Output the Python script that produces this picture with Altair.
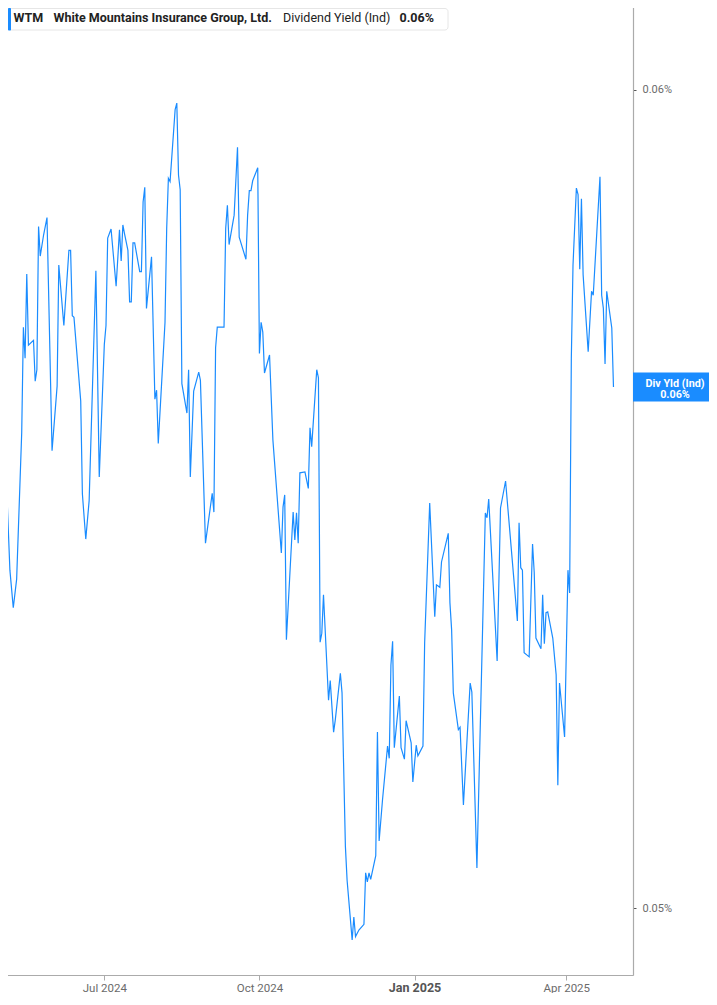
import altair as alt
import pandas as pd

# ---------------- data ----------------
ticker = "WTM"
company = "White Mountains Insurance Group, Ltd."
metric = "Dividend Yield (Ind)"
metric_short = "Div Yld (Ind)"

dates_q2_2024 = ["2024-04-30","2024-05-01","2024-05-02","2024-05-03","2024-05-06","2024-05-08","2024-05-10",
                 "2024-05-13","2024-05-14","2024-05-15","2024-05-16","2024-05-17","2024-05-20","2024-05-21",
                 "2024-05-22","2024-05-23","2024-05-24","2024-05-26","2024-05-28","2024-05-31","2024-06-03",
                 "2024-06-04","2024-06-07","2024-06-10","2024-06-11","2024-06-12","2024-06-13","2024-06-17",
                 "2024-06-18","2024-06-20","2024-06-22","2024-06-24","2024-06-26","2024-06-28"]
yield_q2_2024 = [0.05647,0.05506,0.05505,0.05570,0.05413,0.05367,0.05402,
                 0.05581,0.05710,0.05672,0.05775,0.05688,0.05694,0.05644,
                 0.05658,0.05833,0.05797,0.05823,0.05844,0.05559,0.05638,
                 0.05786,0.05712,0.05804,0.05804,0.05724,0.05722,0.05620,
                 0.05506,0.05451,0.05498,0.05638,0.05779,0.05527]

dates_q3_2024 = ["2024-07-01","2024-07-02","2024-07-03","2024-07-05","2024-07-08","2024-07-10","2024-07-11",
                 "2024-07-12","2024-07-13","2024-07-15","2024-07-16","2024-07-17","2024-07-18","2024-07-19",
                 "2024-07-22","2024-07-23","2024-07-24","2024-07-25","2024-07-26","2024-07-29","2024-07-31",
                 "2024-08-01","2024-08-02","2024-08-06","2024-08-07","2024-08-08","2024-08-09","2024-08-12",
                 "2024-08-13","2024-08-14","2024-08-15","2024-08-16","2024-08-19","2024-08-20","2024-08-21",
                 "2024-08-23","2024-08-26","2024-08-27","2024-08-30","2024-09-03","2024-09-04","2024-09-05",
                 "2024-09-06","2024-09-10","2024-09-11","2024-09-12","2024-09-13","2024-09-16","2024-09-18",
                 "2024-09-19","2024-09-23","2024-09-24","2024-09-25","2024-09-26","2024-09-27","2024-09-30"]
yield_q3_2024 = [0.05689,0.05712,0.05819,0.05830,0.05760,0.05829,0.05791,
                 0.05835,0.05824,0.05804,0.05741,0.05741,0.05813,0.05813,
                 0.05778,0.05778,0.05863,0.05881,0.05733,0.05796,0.05622,
                 0.05633,0.05568,0.05716,0.05831,0.05892,0.05888,0.05976,
                 0.05984,0.05896,0.05878,0.05641,0.05605,0.05658,0.05527,
                 0.05632,0.05655,0.05645,0.05446,0.05507,0.05484,0.05685,
                 0.05710,0.05710,0.05831,0.05859,0.05811,0.05847,0.05930,
                 0.05820,0.05793,0.05847,0.05877,0.05877,0.05889,0.05905]

dates_q4_2024 = ["2024-10-01","2024-10-02","2024-10-03","2024-10-04","2024-10-07","2024-10-09","2024-10-14",
                 "2024-10-15","2024-10-16","2024-10-17","2024-10-21","2024-10-22","2024-10-23","2024-10-24",
                 "2024-10-25","2024-10-28","2024-10-30","2024-10-31","2024-11-01","2024-11-04","2024-11-05",
                 "2024-11-06","2024-11-07","2024-11-08","2024-11-11","2024-11-12","2024-11-14","2024-11-15",
                 "2024-11-18","2024-11-19","2024-11-21","2024-11-22","2024-11-25","2024-11-26","2024-11-27",
                 "2024-11-29","2024-12-02","2024-12-03","2024-12-04","2024-12-05","2024-12-06","2024-12-09",
                 "2024-12-10","2024-12-11","2024-12-13","2024-12-16","2024-12-17","2024-12-18","2024-12-19",
                 "2024-12-20","2024-12-23","2024-12-24","2024-12-26","2024-12-27","2024-12-30","2024-12-31"]
yield_q4_2024 = [0.05678,0.05716,0.05704,0.05654,0.05676,0.05572,0.05434,
                 0.05490,0.05505,0.05328,0.05484,0.05450,0.05483,0.05446,
                 0.05532,0.05533,0.05513,0.05587,0.05564,0.05658,0.05648,
                 0.05325,0.05336,0.05383,0.05254,0.05278,0.05215,0.05230,
                 0.05287,0.05263,0.05075,0.05034,0.04961,0.04989,0.04965,
                 0.04973,0.04980,0.05043,0.05032,0.05043,0.05035,0.05064,
                 0.05215,0.05082,0.05132,0.05198,0.05183,0.05297,0.05326,
                 0.05196,0.05259,0.05196,0.05182,0.05229,0.05202,0.05154]

dates_q1_2025 = ["2025-01-02","2025-01-03","2025-01-06","2025-01-07","2025-01-10","2025-01-13","2025-01-14",
                 "2025-01-16","2025-01-17","2025-01-21","2025-01-22","2025-01-23","2025-01-24","2025-01-27",
                 "2025-01-28","2025-01-30","2025-02-03","2025-02-04","2025-02-07","2025-02-12","2025-02-13",
                 "2025-02-14","2025-02-19","2025-02-21","2025-02-24","2025-03-03","2025-03-04","2025-03-05",
                 "2025-03-06","2025-03-07","2025-03-10","2025-03-12","2025-03-13","2025-03-14","2025-03-17",
                 "2025-03-18","2025-03-19","2025-03-20","2025-03-21","2025-03-24","2025-03-26","2025-03-27",
                 "2025-03-28","2025-03-31"]
yield_q1_2025 = [0.05199,0.05186,0.05198,0.05324,0.05495,0.05356,0.05395,
                 0.05392,0.05423,0.05458,0.05373,0.05340,0.05263,0.05218,
                 0.05221,0.05126,0.05275,0.05264,0.05049,0.05483,0.05477,
                 0.05500,0.05302,0.05489,0.05522,0.05351,0.05471,0.05416,
                 0.05413,0.05312,0.05307,0.05445,0.05410,0.05330,0.05317,
                 0.05383,0.05323,0.05361,0.05362,0.05330,0.05285,0.05150,
                 0.05275,0.05209]

dates_q2_2025 = ["2025-04-02","2025-04-03","2025-04-04","2025-04-05","2025-04-07","2025-04-08","2025-04-09",
                 "2025-04-10","2025-04-11","2025-04-14","2025-04-16","2025-04-17","2025-04-21","2025-04-22",
                 "2025-04-23","2025-04-24","2025-04-25","2025-04-28","2025-04-29"]
yield_q2_2025 = [0.05413,0.05385,0.05672,0.05786,0.05880,0.05872,0.05781,
                 0.05867,0.05774,0.05680,0.05754,0.05749,0.05894,0.05749,
                 0.05733,0.05665,0.05754,0.05709,0.05637]

x_ticks = [(2024, 7, 1), (2024, 10, 1), (2025, 1, 1), (2025, 4, 1)]
y_ticks = [0.05, 0.06]

dates = dates_q2_2024 + dates_q3_2024 + dates_q4_2024 + dates_q1_2025 + dates_q2_2025
yields = yield_q2_2024 + yield_q3_2024 + yield_q4_2024 + yield_q1_2025 + yield_q2_2025
assert len(dates) == len(yields)

last_label = f"{yields[-1]:.2f}%"
df = pd.DataFrame({"date": dates, "yld": yields})
last = pd.DataFrame({"date": [dates[-1]], "yld": [yields[-1]]})
one = pd.DataFrame({"k": [0]})

# ---------------- styling ----------------
W, H = 633, 975
BLUE = "#1a8cff"
FONT = "Roboto"

x_scale = alt.Scale(
    type="utc",
    domain=[alt.DateTime(year=2024, month=4, date=30, hours=3, utc=True),
            alt.DateTime(year=2025, month=5, date=10, hours=14, utc=True)],
)
y_scale = alt.Scale(domain=[0.049181, 0.0611], zero=False, nice=False)

is_jan = "utcmonth(datum.value) == 0"
x_axis = alt.Axis(
    title="",
    values=[alt.DateTime(year=y, month=m, date=d, utc=True) for (y, m, d) in x_ticks],
    labelExpr="utcFormat(datum.value, '%b %Y')",
    grid=False,
    domainColor="#ababab",
    domainWidth=1.2,
    tickColor="#ababab",
    tickSize=5,
    labelBaseline="alphabetic",
    labelPadding=11,
    labelFont=FONT,
    labelFontSize={"condition": {"test": is_jan, "value": 12.5}, "value": 11.5},
    labelFontWeight={"condition": {"test": is_jan, "value": "bold"}, "value": "normal"},
    labelColor={"condition": {"test": is_jan, "value": "#555555"}, "value": "#6b6b6b"},
    labelFlush=False,
    labelOverlap=False,
)
y_axis = alt.Axis(
    title="",
    orient="right",
    values=y_ticks,
    labelExpr="format(datum.value, '.2f') + '%'",
    grid=False,
    domainColor="#ababab",
    domainWidth=1.2,
    tickColor="#555555",
    tickSize=3,
    labelPadding=6,
    labelFont=FONT,
    labelFontSize=11,
    labelColor="#6b6b6b",
    labelFlush=False,
    labelOverlap=False,
)

line = alt.Chart(df).mark_line(color=BLUE, strokeWidth=1.2).encode(
    x=alt.X("date:T", scale=x_scale, axis=x_axis),
    y=alt.Y("yld:Q", scale=y_scale, axis=y_axis),
)

# value tag on the right axis
tag_box = alt.Chart(last).mark_rect(color=BLUE, yOffset=-14.5, y2Offset=14.5).encode(
    x=alt.value(W), x2=alt.value(W + 90),
    y=alt.Y("yld:Q", scale=y_scale), y2="yld:Q",
)
tag_text = alt.Chart(last).mark_text(
    color="white", font=FONT, fontSize=10.8, fontWeight="bold", baseline="middle", align="center",
    lineHeight=11.2, dy=-2.8
).encode(x=alt.value(W + 42), y=alt.Y("yld:Q", scale=y_scale),
         text=alt.value([metric_short, last_label]))

# legend header box, top-left
leg_box = alt.Chart(one).mark_rect(fill="white", stroke="#e6e6e6", strokeWidth=1, cornerRadius=3).encode(
    x=alt.value(8.5), x2=alt.value(448), y=alt.value(8.5), y2=alt.value(30)
)
leg_bar = alt.Chart(one).mark_rect(fill=BLUE, cornerRadius=1).encode(
    x=alt.value(8), x2=alt.value(11), y=alt.value(8), y2=alt.value(30.5)
)
def leg_text(txt, xpos, weight):
    return alt.Chart(one).mark_text(
        align="left", baseline="middle", font=FONT, fontSize=12.5, fontWeight=weight, color="#222222"
    ).encode(x=alt.value(xpos), y=alt.value(17.5), text=alt.value(txt))

leg_texts = [
    leg_text(ticker, 13.5, "bold"),
    leg_text(company, 53.5, "bold"),
    leg_text(metric, 283, "normal"),
    leg_text(last_label, 399.5, "bold"),
]

chart = alt.layer(line, tag_box, tag_text, leg_box, leg_bar, *leg_texts).properties(
    width=W, height=H,
    autosize=alt.AutoSizeParams(type="none"),
    padding={"left": -8, "top": -8, "right": 76, "bottom": 18},
).configure_view(strokeWidth=0).configure(background="white")

chart.save("out.html", embed_options={"renderer": "svg", "actions": False})
